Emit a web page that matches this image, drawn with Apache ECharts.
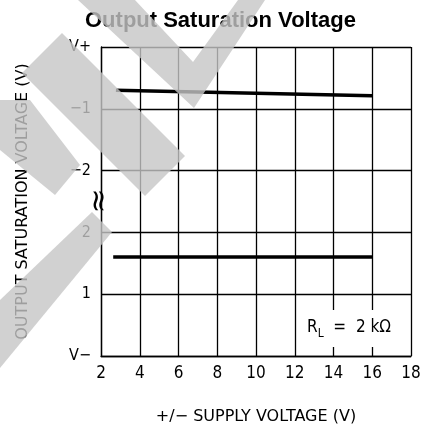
<!DOCTYPE html>
<html>
<head>
<meta charset="utf-8">
<script src="https://cdn.jsdelivr.net/npm/echarts@6/dist/echarts.min.js"></script>
<style>
html,body{margin:0;padding:0;background:#fff;}
#chart{width:425px;height:432px;}
</style>
</head>
<body>
<div id="chart"></div>
<script>
// data
var upperX = [2.77, 16];
var upperY = [4.30, 4.21];
var lowerX = [2.63, 16];
var lowerY = [1.60, 1.60];
// y ticks 0..5 are labelled like the datasheet
var yTickLabels = ['V\u2212', '1', '2', '\u22122', '\u22121', 'V+'];

var narrow = "'Liberation Sans Narrow', 'DejaVu Sans Condensed', 'DejaVu Sans', sans-serif";

function pairs(xs, ys)
{
    var out = [];
    for (var i = 0; i < xs.length; i++) {
        out.push([xs[i], ys[i]]);
    }
    return out;
}

var myChart = echarts.init(document.getElementById('chart'));

// grey "watermark" over the left side
var wm = 'rgba(197,197,197,0.8)';
var marks = [
    [[78,0],[135,0],[193,62],[238,0],[265,0],[194,108]],
    [[62,33],[185,156],[145,196],[22,73]],
    [[0,100],[30,100],[80,165],[55,195],[0,150]],
    [[92,212],[112,232],[0,368],[0,300]]
];

var graphics = [
    //R_L label box, breaks the grid lines
    {
        type: 'rect',
        shape: {x: 300, y: 310, width: 104, height: 37},
        style: {fill: '#fff'},
        z: 10
    },
    {
        type: 'text',
        x: 307, y: 328,
        style: {
            text: '{r|R}{s|L}{r|  =  2 k\u03a9}',
            verticalAlign: 'middle',
            rich: {
                r: {fontSize: 17, fontFamily: narrow, fill: '#000'},
                s: {fontSize: 12, fontFamily: narrow, fill: '#000', padding: [12, 0, 0, 0]}
            }
        },
        z: 11
    },
    //axis break
    {
        type: 'text',
        x: 100, y: 201,
        rotation: Math.PI / 2,
        style: {
            text: '\u2248',
            fontSize: 30,
            fontFamily: 'DejaVu Sans',
            fill: '#000',
            align: 'center',
            verticalAlign: 'middle'
        },
        z: 11
    }
];

for (var i = 0; i < marks.length; i++) {
    graphics.push({
        type: 'polygon',
        shape: {points: marks[i]},
        style: {fill: wm},
        z: 100
    });
}

myChart.setOption({
    animation: false,
    title: {
        text: 'Output Saturation Voltage',
        left: 80,
        top: 5,
        textStyle: {
            fontFamily: "'Liberation Sans', Arial, sans-serif",
            fontWeight: 'bold',
            fontSize: 22,
            color: '#000'
        }
    },
    grid: {
        left: 101,
        right: 14,
        top: 47,
        bottom: 76
    },
    xAxis: {
        type: 'value',
        min: 2,
        max: 18,
        interval: 2,
        name: '+/\u2212 SUPPLY VOLTAGE (V)',
        nameLocation: 'middle',
        nameGap: 53,
        nameTextStyle: {fontFamily: 'DejaVu Sans', fontSize: 16, color: '#000'},
        axisLine: {lineStyle: {color: '#000', width: 1.3}},
        axisTick: {show: false},
        axisLabel: {margin: 9, fontFamily: narrow, fontSize: 17, color: '#000'},
        splitLine: {show: true, lineStyle: {color: '#000', width: 1.3}}
    },
    yAxis: {
        type: 'value',
        min: 0,
        max: 5,
        interval: 1,
        name: 'OUTPUT SATURATION VOLTAGE (V)',
        nameLocation: 'middle',
        nameGap: 70,
        nameTextStyle: {fontFamily: 'DejaVu Sans', fontSize: 16, color: '#000'},
        axisLine: {lineStyle: {color: '#000', width: 1.3}},
        axisTick: {show: false},
        axisLabel: {
            margin: 10,
            fontFamily: narrow,
            fontSize: 16,
            color: '#000',
            formatter: function (v) { return yTickLabels[v]; }
        },
        splitLine: {show: true, lineStyle: {color: '#000', width: 1.3}}
    },
    series: [
        {
            type: 'line',
            data: pairs(upperX, upperY),
            showSymbol: false,
            lineStyle: {color: '#000', width: 3.5}
        },
        {
            type: 'line',
            data: pairs(lowerX, lowerY),
            showSymbol: false,
            lineStyle: {color: '#000', width: 3.5}
        }
    ],
    graphic: graphics
});
</script>
</body>
</html>
